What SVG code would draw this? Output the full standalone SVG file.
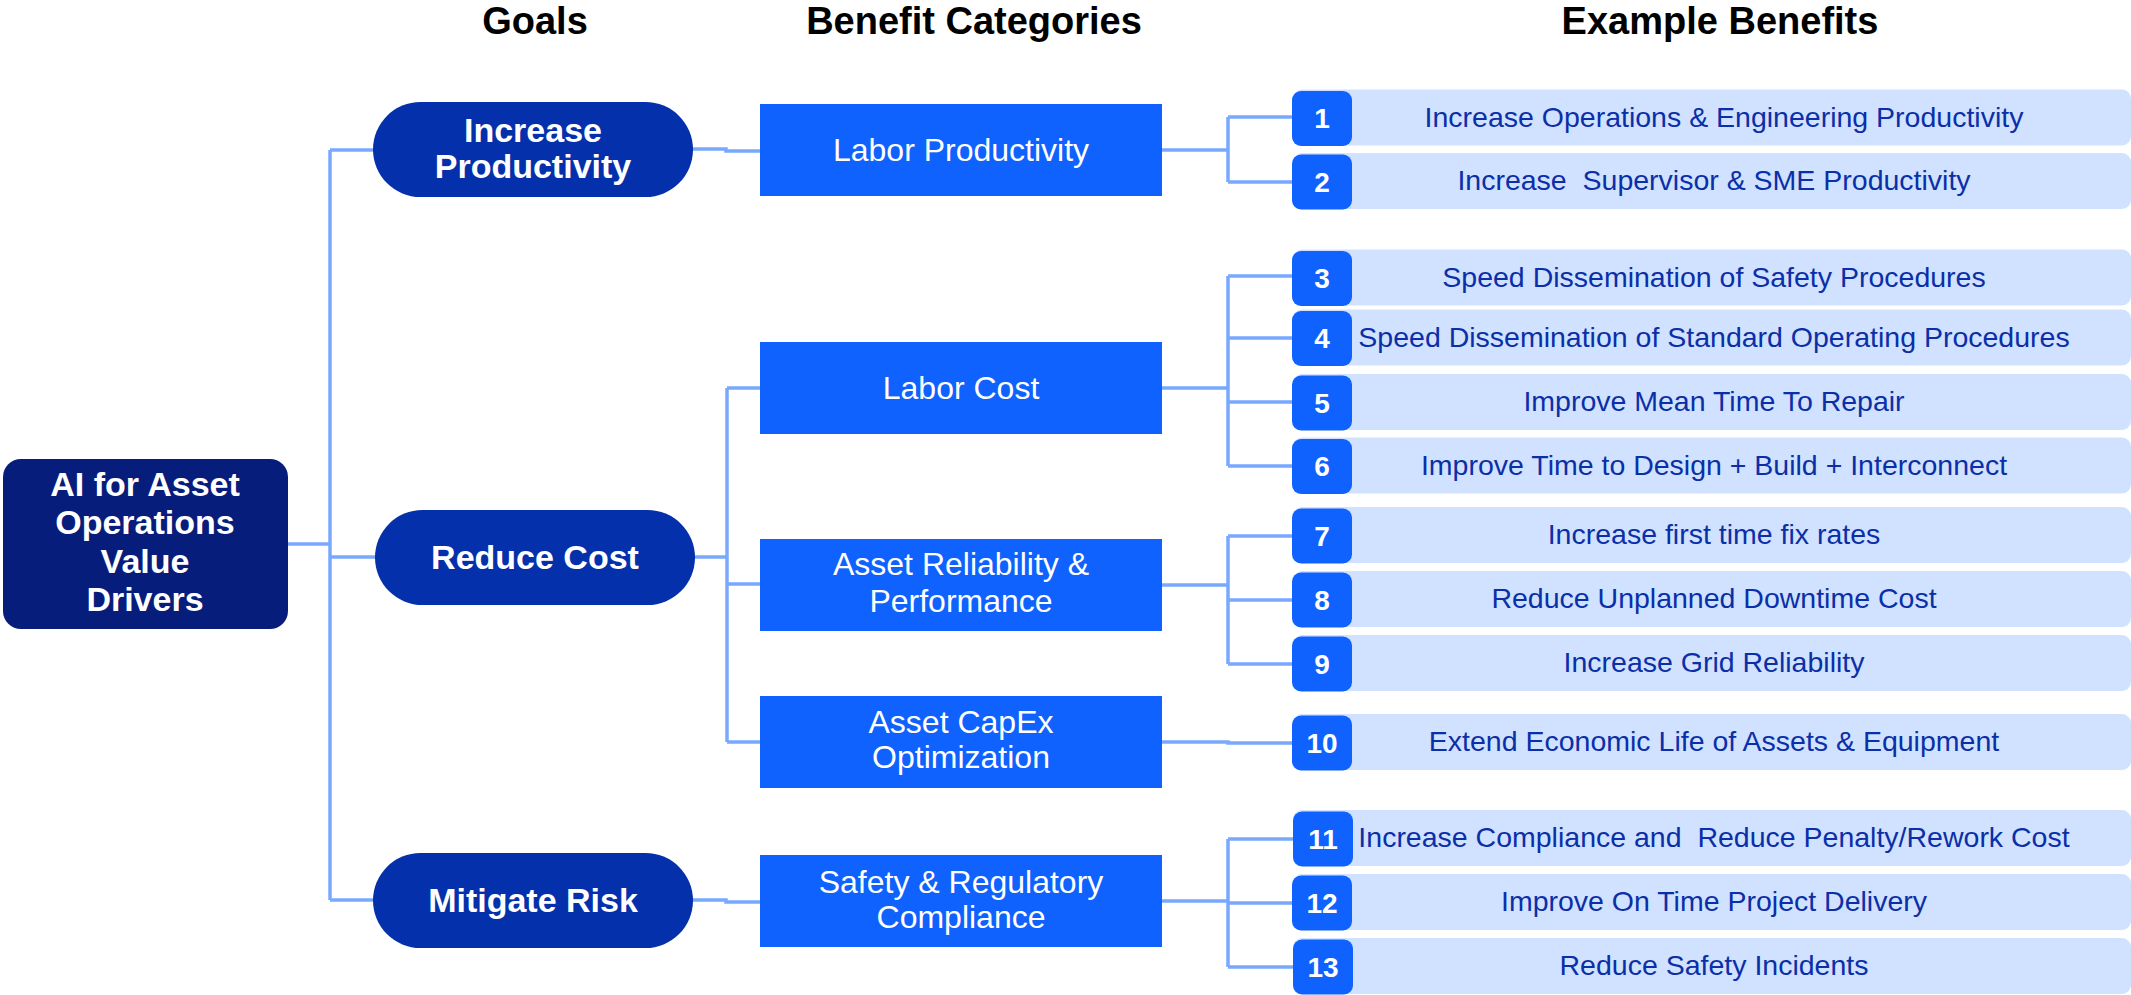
<svg xmlns="http://www.w3.org/2000/svg" width="2131" height="995" viewBox="0 0 2131 995">
<style>
.hdr{font-family:"Liberation Sans",Arial,sans-serif;font-weight:bold;font-size:38px;fill:#000;text-anchor:middle}
.root{fill:#071D7B}
.goal{fill:#0530AB}
.cat{fill:#0F62FE}
.row{fill:#D0E2FF}
.badge{fill:#0F62FE}
.wb{font-family:"Liberation Sans",Arial,sans-serif;font-weight:bold;font-size:34px;fill:#fff;text-anchor:middle}
.wt{font-family:"Liberation Sans",Arial,sans-serif;font-size:32px;fill:#fff;text-anchor:middle}
.num{font-family:"Liberation Sans",Arial,sans-serif;font-weight:bold;font-size:28px;fill:#fff;text-anchor:middle}
.it{font-family:"Liberation Sans",Arial,sans-serif;font-size:28.5px;fill:#0B2FA8;text-anchor:middle}
.conn path{fill:none;stroke:#78A9FF;stroke-width:3.5}
</style>
<rect width="2131" height="995" fill="#fff"/>
<text class="hdr" x="535" y="34">Goals</text>
<text class="hdr" x="974" y="34">Benefit Categories</text>
<text class="hdr" x="1720" y="34">Example Benefits</text>

<g class="conn" id="connectors">
<path d="M288 544 H330"/>
<path d="M330 150 V900"/>
<path d="M330 150 H374"/>
<path d="M330 557 H376"/>
<path d="M330 900 H374"/>
<path d="M692 149 H726 V151 H760"/>
<path d="M694 557 H727"/>
<path d="M727 388 V742"/>
<path d="M727 388 H760 M727 584 H760 M727 742 H760"/>
<path d="M692 900 H726 V902 H760"/>
<path d="M1162 150 H1228 M1228 117 V182 M1228 117 H1293 M1228 182 H1293"/>
<path d="M1162 388 H1228 M1228 276 V466 M1228 276 H1293 M1228 338 H1293 M1228 402 H1293 M1228 466 H1293"/>
<path d="M1162 585 H1228 M1228 536 V664 M1228 536 H1293 M1228 600 H1293 M1228 664 H1293"/>
<path d="M1162 742 H1228 V743 H1293"/>
<path d="M1162 901 H1228 M1228 839 V967 M1228 839 H1293 M1228 903 H1293 M1228 967 H1293"/>
</g>

<g id="root">
<rect class="root" x="3" y="459" width="285" height="170" rx="18"/>
<text class="wb" x="145" y="496">AI for Asset</text>
<text class="wb" x="145" y="534">Operations</text>
<text class="wb" x="145" y="573">Value</text>
<text class="wb" x="145" y="611">Drivers</text>
</g>

<g id="goal-productivity">
<rect class="goal" x="373" y="102" width="320" height="95" rx="47.5"/>
<text class="wb" x="533" y="142">Increase</text>
<text class="wb" x="533" y="178">Productivity</text>
</g>
<g id="goal-cost">
<rect class="goal" x="375" y="510" width="320" height="95" rx="47.5"/>
<text class="wb" x="535" y="569">Reduce Cost</text>
</g>
<g id="goal-risk">
<rect class="goal" x="373" y="853" width="320" height="95" rx="47.5"/>
<text class="wb" x="533" y="912">Mitigate Risk</text>
</g>

<g id="cat-labor-productivity">
<rect class="cat" x="760" y="104" width="402" height="92"/>
<text class="wt" x="961" y="161">Labor Productivity</text>
</g>
<g id="cat-labor-cost">
<rect class="cat" x="760" y="342" width="402" height="92"/>
<text class="wt" x="961" y="399">Labor Cost</text>
</g>
<g id="cat-asset-reliability">
<rect class="cat" x="760" y="539" width="402" height="92"/>
<text class="wt" x="961" y="575">Asset Reliability &amp;</text>
<text class="wt" x="961" y="612">Performance</text>
</g>
<g id="cat-capex">
<rect class="cat" x="760" y="696" width="402" height="92"/>
<text class="wt" x="961" y="733">Asset CapEx</text>
<text class="wt" x="961" y="768">Optimization</text>
</g>
<g id="cat-safety">
<rect class="cat" x="760" y="855" width="402" height="92"/>
<text class="wt" x="961" y="893">Safety &amp; Regulatory</text>
<text class="wt" x="961" y="928">Compliance</text>
</g>

<g id="benefit-1"><rect class="row" x="1293" y="89.5" width="838" height="56" rx="9"/><rect class="badge" x="1292" y="91" width="60" height="55" rx="9"/><text class="num" x="1322" y="128">1</text><text class="it" x="1724" y="126.5">Increase Operations &amp; Engineering Productivity</text></g>
<g id="benefit-2"><rect class="row" x="1293" y="153" width="838" height="56" rx="9"/><rect class="badge" x="1292" y="154.5" width="60" height="55" rx="9"/><text class="num" x="1322" y="191.5">2</text><text class="it" x="1714" y="190">Increase&#160; Supervisor &amp; SME Productivity</text></g>
<g id="benefit-3"><rect class="row" x="1293" y="249.5" width="838" height="56" rx="9"/><rect class="badge" x="1292" y="251" width="60" height="55" rx="9"/><text class="num" x="1322" y="288">3</text><text class="it" x="1714" y="286.5">Speed Dissemination of Safety Procedures</text></g>
<g id="benefit-4"><rect class="row" x="1293" y="309.5" width="838" height="56" rx="9"/><rect class="badge" x="1292" y="311" width="60" height="55" rx="9"/><text class="num" x="1322" y="348">4</text><text class="it" x="1714" y="346.5">Speed Dissemination of Standard Operating Procedures</text></g>
<g id="benefit-5"><rect class="row" x="1293" y="374" width="838" height="56" rx="9"/><rect class="badge" x="1292" y="375.5" width="60" height="55" rx="9"/><text class="num" x="1322" y="412.5">5</text><text class="it" x="1714" y="411">Improve Mean Time To Repair</text></g>
<g id="benefit-6"><rect class="row" x="1293" y="437.5" width="838" height="56" rx="9"/><rect class="badge" x="1292" y="439" width="60" height="55" rx="9"/><text class="num" x="1322" y="476">6</text><text class="it" x="1714" y="474.5">Improve Time to Design + Build + Interconnect</text></g>
<g id="benefit-7"><rect class="row" x="1293" y="507" width="838" height="56" rx="9"/><rect class="badge" x="1292" y="508.5" width="60" height="55" rx="9"/><text class="num" x="1322" y="545.5">7</text><text class="it" x="1714" y="544">Increase first time fix rates</text></g>
<g id="benefit-8"><rect class="row" x="1293" y="571" width="838" height="56" rx="9"/><rect class="badge" x="1292" y="572.5" width="60" height="55" rx="9"/><text class="num" x="1322" y="609.5">8</text><text class="it" x="1714" y="608">Reduce Unplanned Downtime Cost</text></g>
<g id="benefit-9"><rect class="row" x="1293" y="635" width="838" height="56" rx="9"/><rect class="badge" x="1292" y="636.5" width="60" height="55" rx="9"/><text class="num" x="1322" y="673.5">9</text><text class="it" x="1714" y="672">Increase Grid Reliability</text></g>
<g id="benefit-10"><rect class="row" x="1293" y="714" width="838" height="56" rx="9"/><rect class="badge" x="1292" y="715.5" width="60" height="55" rx="9"/><text class="num" x="1322" y="752.5">10</text><text class="it" x="1714" y="751">Extend Economic Life of Assets &amp; Equipment</text></g>
<g id="benefit-11"><rect class="row" x="1293" y="810" width="838" height="56" rx="9"/><rect class="badge" x="1293" y="811.5" width="60" height="55" rx="9"/><text class="num" x="1323" y="848.5">11</text><text class="it" x="1714" y="847">Increase Compliance and&#160; Reduce Penalty/Rework Cost</text></g>
<g id="benefit-12"><rect class="row" x="1293" y="874" width="838" height="56" rx="9"/><rect class="badge" x="1292" y="875.5" width="60" height="55" rx="9"/><text class="num" x="1322" y="912.5">12</text><text class="it" x="1714" y="911">Improve On Time Project Delivery</text></g>
<g id="benefit-13"><rect class="row" x="1293" y="938" width="838" height="56" rx="9"/><rect class="badge" x="1293" y="939.5" width="60" height="55" rx="9"/><text class="num" x="1323" y="976.5">13</text><text class="it" x="1714" y="975">Reduce Safety Incidents</text></g>
</svg>
